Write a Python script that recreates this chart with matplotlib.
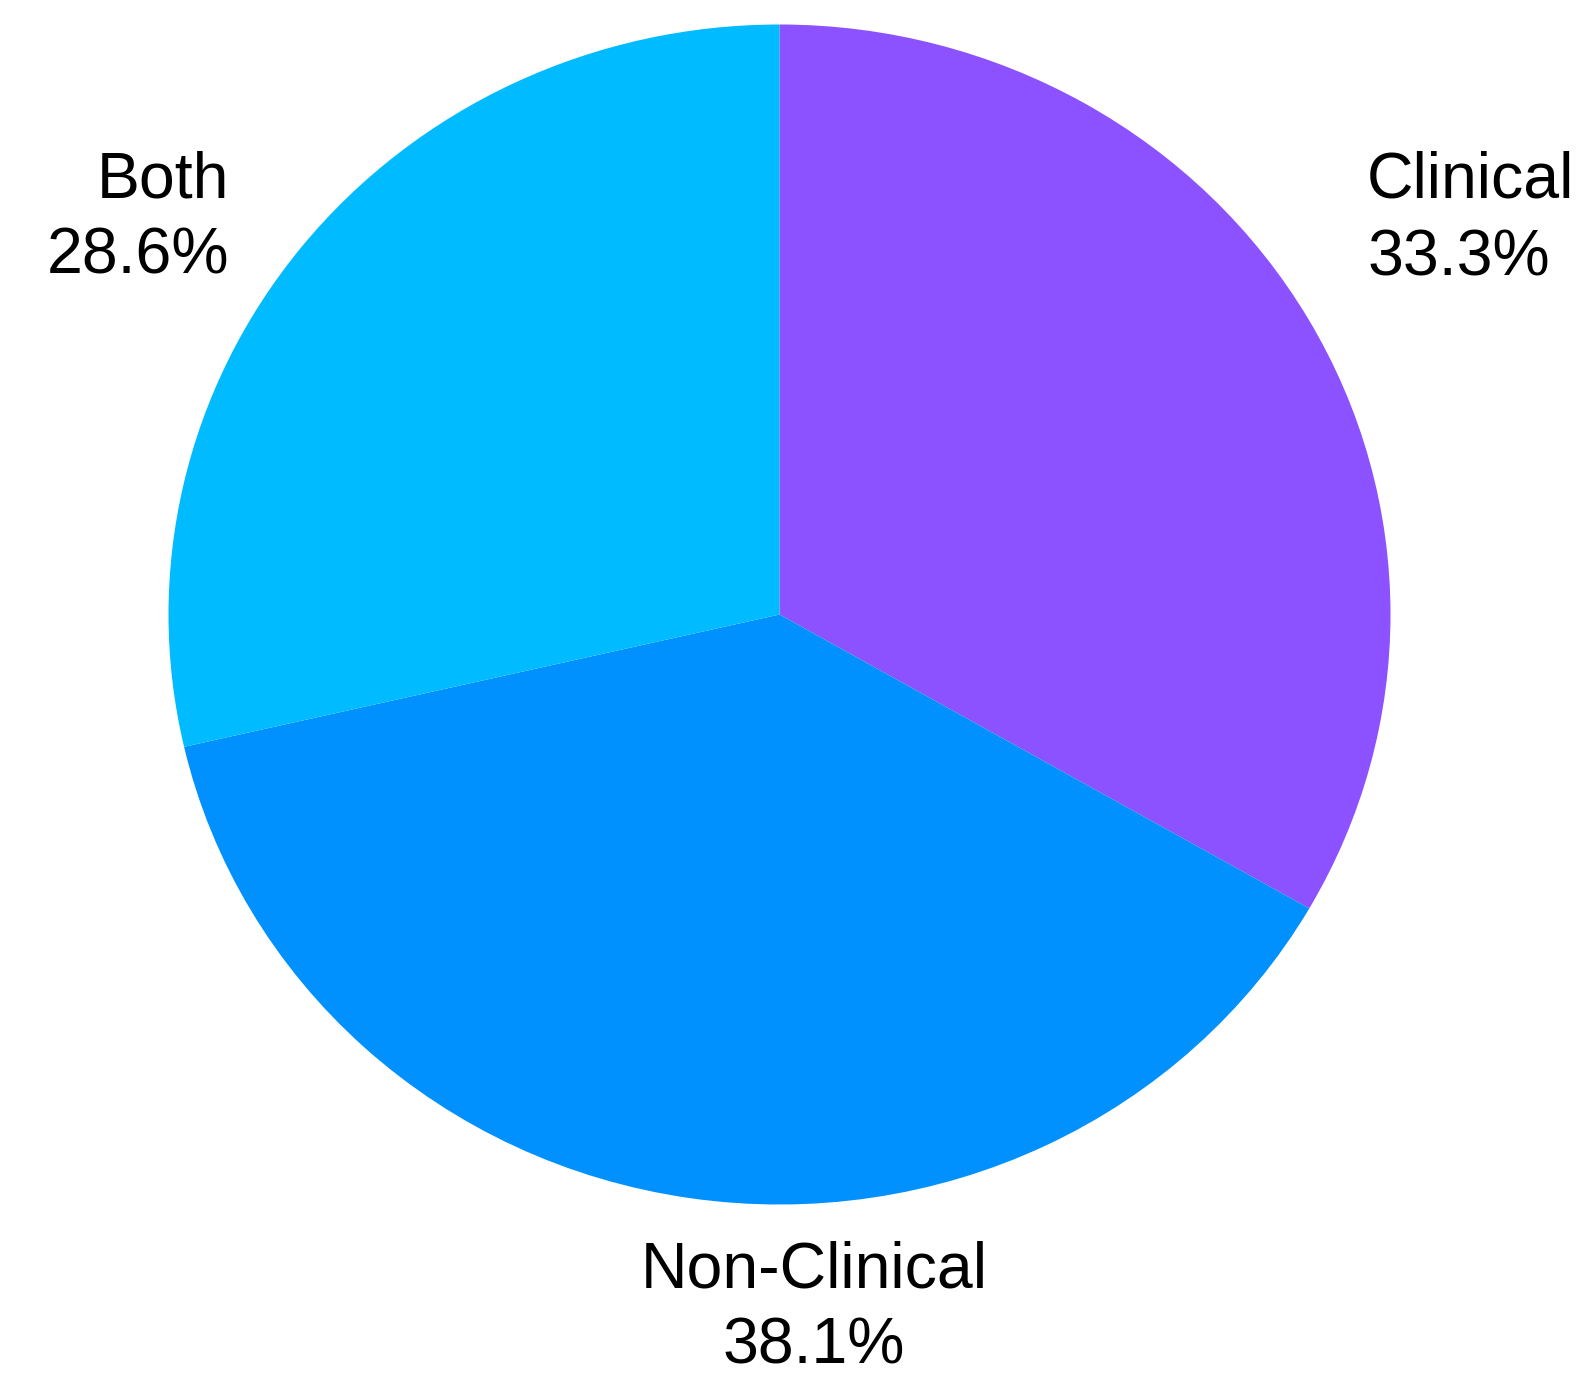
import matplotlib
matplotlib.use("Agg")
import matplotlib.pyplot as plt

plt.rcParams['font.family'] = ['Liberation Sans', 'DejaVu Sans']

# data
categories = ["Clinical", "Non-Clinical", "Both"]
shares = [33.3, 38.1, 28.6]
colours = ["#8c52ff", "#0091ff", "#00bbff"]

W, H = 1577, 1377
fig = plt.figure(figsize=(W / 100, H / 100), dpi=100)
ax = fig.add_axes([0, 0, 1, 1])

# pie centre / radii in pixels (slightly squashed vertically)
cx, cy = 779.5, 614.5
rx, ry = 611.0, 590.0

ax.pie(shares, colors=colours, startangle=90, counterclock=False,
       radius=1, wedgeprops=dict(linewidth=0))
ax.set_aspect('auto')
ax.set_xlim(-cx / rx, (W - cx) / rx)
ax.set_ylim(-(H - cy) / ry, cy / ry)
ax.axis('off')

# labels placed in pixel coords (baseline y from top), one text per line
def label(x, y, name, pct, ha):
    for yy, s in ((y, name), (y + 77, f"{pct:.1f}%")):
        fig.text(x / W, 1 - yy / H, s, ha=ha, va='baseline', fontsize=46.4,
                 color='black')

label(1367, 198, categories[0], shares[0], 'left')
label(229, 197, categories[2], shares[2], 'right')
label(814, 1287, categories[1], shares[1], 'center')

fig.savefig("out.png", dpi=100, facecolor='white')
